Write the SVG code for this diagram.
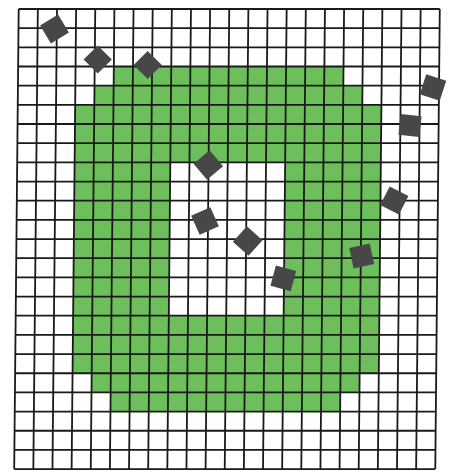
<svg xmlns="http://www.w3.org/2000/svg" width="454" height="472" viewBox="0 0 454 472">
  <style>
    .green { fill: #6cbf5b; fill-rule: evenodd; }
    .grid { fill: none; stroke: #1a1a1a; stroke-width: 1.8; }
    .tile { fill: #474747; }
  </style>
  <defs>
    <rect id="sq" x="-10.5" y="-10.5" width="21" height="21"/>
  </defs>
  <rect x="0" y="0" width="454" height="472" fill="#ffffff"/>
  <g id="board" transform="matrix(1 0 -0.0098 1 18.7 9)">
    <path id="green-ring" class="green" d="M95.7 57.51 H325.38 V76.68 H344.52 V95.85 H363.66 V364.23 H344.52 V383.4 H325.38 V402.57 H95.7 V383.4 H76.56 V364.23 H57.42 V95.85 H76.56 V76.68 H95.7 Z M153.12 153.36 V306.72 H267.96 V153.36 Z"/>
    <path id="grid" class="grid" d="M0 0V460.08 M19.14 0V460.08 M38.28 0V460.08 M57.42 0V460.08 M76.56 0V460.08 M95.7 0V460.08 M114.84 0V460.08 M133.98 0V460.08 M153.12 0V460.08 M172.26 0V460.08 M191.4 0V460.08 M210.54 0V460.08 M229.68 0V460.08 M248.82 0V460.08 M267.96 0V460.08 M287.1 0V460.08 M306.24 0V460.08 M325.38 0V460.08 M344.52 0V460.08 M363.66 0V460.08 M382.8 0V460.08 M401.94 0V460.08 M421.08 0V460.08 M0 0H421.08 M0 19.17H421.08 M0 38.34H421.08 M0 57.51H421.08 M0 76.68H421.08 M0 95.85H421.08 M0 115.02H421.08 M0 134.19H421.08 M0 153.36H421.08 M0 172.53H421.08 M0 191.7H421.08 M0 210.87H421.08 M0 230.04H421.08 M0 249.21H421.08 M0 268.38H421.08 M0 287.55H421.08 M0 306.72H421.08 M0 325.89H421.08 M0 345.06H421.08 M0 364.23H421.08 M0 383.4H421.08 M0 402.57H421.08 M0 421.74H421.08 M0 440.91H421.08 M0 460.08H421.08"/>
  </g>
  <g id="tiles" class="tile">
    <use href="#sq" transform="translate(54.5 29) rotate(-31)"/>
    <use href="#sq" transform="translate(97.7 59.5) rotate(45) scale(0.95)"/>
    <use href="#sq" transform="translate(147.7 65) rotate(45) scale(0.95)"/>
    <use href="#sq" transform="translate(433 87.5) rotate(18)"/>
    <use href="#sq" transform="translate(410 125.5) rotate(6)"/>
    <use href="#sq" transform="translate(208.3 165) rotate(-40)"/>
    <use href="#sq" transform="translate(205 221) rotate(-24)"/>
    <use href="#sq" transform="translate(247.7 241) rotate(42)"/>
    <use href="#sq" transform="translate(283.3 278.3) rotate(15)"/>
    <use href="#sq" transform="translate(394.3 200.5) rotate(27)"/>
    <use href="#sq" transform="translate(361.7 256) rotate(-12)"/>
  </g>
</svg>
